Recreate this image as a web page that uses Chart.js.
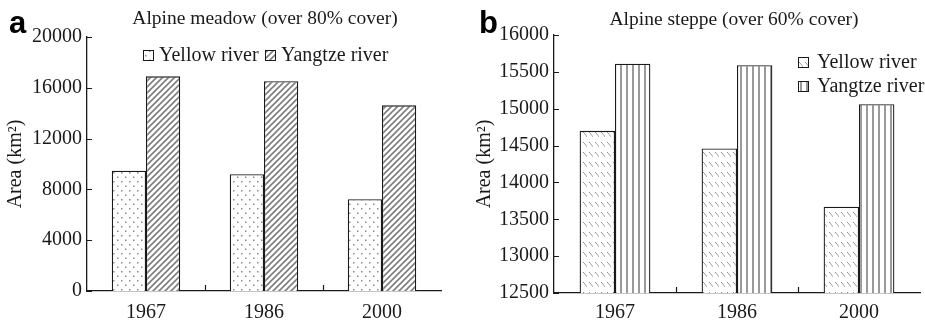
<!DOCTYPE html>
<html>
<head>
<meta charset="utf-8">
<script src="https://cdn.jsdelivr.net/npm/chart.js@4"></script>
<style>
  body { margin: 0; background: #fff; width: 925px; height: 322px; position: relative; overflow: hidden; }
  .panel { position: absolute; top: 0; }
  #wrapA { left: 0; }
  #wrapB { left: 462px; }
</style>
</head>
<body>
<div class="panel" id="wrapA"><canvas id="chartA" width="462" height="322"></canvas></div>
<div class="panel" id="wrapB"><canvas id="chartB" width="463" height="322"></canvas></div>
<script>
// data
const years = ['1967', '1986', '2000'];
const meadowYellow = [9470, 9190, 7220];
const meadowYangtze = [16900, 16510, 14620];
const steppeYellow = [14700, 14460, 13670];
const steppeYangtze = [15610, 15590, 15060];
const meadowTicks = [0, 4000, 8000, 12000, 16000, 20000];
const steppeTicks = [12500, 13000, 13500, 14000, 14500, 15000, 15500, 16000];
const seriesNames = ['Yellow river', 'Yangtze river'];

const serif = '"Liberation Serif", "Times New Roman", serif';
const ink = '#1a1a1a';

function makePattern(w, h, draw) {
    const c = document.createElement('canvas');
    c.width = w;
    c.height = h;
    const g = c.getContext('2d');
    g.fillStyle = '#fff';
    g.fillRect(0, 0, w, h);
    draw(g);
    return g.createPattern(c, 'repeat');
}

const dots = makePattern(8, 9, g => {
    g.fillStyle = '#8a8a8a';
    g.fillRect(1, 1, 1.5, 1.5);
    g.fillRect(5, 5.5, 1.5, 1.5);
});

const slashes = makePattern(6, 6, g => {
    g.strokeStyle = '#7d7d7d';
    g.lineWidth = 1.6;
    g.beginPath();
    g.moveTo(-1, 7); g.lineTo(7, -1);
    g.moveTo(-1, 1); g.lineTo(1, -1);
    g.moveTo(5, 7); g.lineTo(7, 5);
    g.stroke();
});

// short "\" dashes in rows
const backDashes = makePattern(6, 10, g => {
    g.fillStyle = '#8c8c8c';
    for (let i = 0; i < 4; i++) g.fillRect(i + 1, 2 + i * 1.2, 1, 1);
});

const stripes = makePattern(6, 6, g => {
    g.fillStyle = '#9a9a9a';
    g.fillRect(2, 0, 2, 6);
});

function decor(opts) {
    return {
        id: 'decor',
        afterDraw(chart) {
            const ctx = chart.ctx;
            const area = chart.chartArea;
            const x = chart.scales.x;
            const y = chart.scales.y;
            ctx.save();
            ctx.strokeStyle = ink;
            ctx.lineWidth = 1.2;
            // inward ticks
            ctx.beginPath();
            y.ticks.forEach(t => {
                const py = Math.round(y.getPixelForValue(t.value)) + 0.5;
                ctx.moveTo(area.left, py);
                ctx.lineTo(area.left + 5, py);
            });
            for (let i = 1; i < chart.data.labels.length; i++) {
                const px = Math.round((x.getPixelForValue(i - 1) + x.getPixelForValue(i)) / 2) + 0.5;
                ctx.moveTo(px, area.bottom);
                ctx.lineTo(px, area.bottom - 6);
            }
            ctx.stroke();

            // panel letter
            ctx.fillStyle = '#000';
            ctx.font = 'bold 31px "Liberation Sans", Arial, sans-serif';
            ctx.textAlign = 'left';
            ctx.textBaseline = 'alphabetic';
            ctx.fillText(opts.letter, opts.letterX, 33);

            // title
            ctx.fillStyle = ink;
            ctx.font = '19.5px ' + serif;
            ctx.textAlign = 'center';
            ctx.textBaseline = 'middle';
            ctx.fillText(opts.title, opts.titleX, opts.titleY);

            // legend
            ctx.font = '20px ' + serif;
            ctx.textAlign = 'left';
            chart.data.datasets.forEach((ds, i) => {
                const p = opts.legend[i];
                ctx.fillStyle = ds.backgroundColor;
                ctx.fillRect(p[0], p[1] - 5, 10, 10);
                ctx.lineWidth = 1;
                ctx.strokeStyle = ink;
                ctx.strokeRect(p[0] + 0.5, p[1] - 4.5, 10, 10);
                ctx.fillStyle = ink;
                ctx.fillText(ds.label, p[0] + opts.legendGap, p[1] + 1);
            });
            ctx.restore();
        }
    };
}

function makeChart(id, yellow, yangtze, fills, ticks, pad, yWidth, xHeight, xPad, titlePad, deco) {
    const font = { family: serif, size: 20 };
    return new Chart(document.getElementById(id), {
        type: 'bar',
        data: {
            labels: years,
            datasets: [
                { label: seriesNames[0], data: yellow, backgroundColor: fills[0] },
                { label: seriesNames[1], data: yangtze, backgroundColor: fills[1] }
            ]
        },
        options: {
            responsive: false,
            animation: false,
            layout: { padding: pad },
            datasets: {
                bar: {
                    barPercentage: 1,
                    categoryPercentage: 0.58,
                    borderColor: ink,
                    borderWidth: 1.3
                }
            },
            plugins: {
                legend: { display: false },
                tooltip: { enabled: false }
            },
            scales: {
                x: {
                    grid: { display: false, drawTicks: false },
                    border: { color: ink, width: 1.3 },
                    ticks: { font: font, color: ink, padding: xPad, maxRotation: 0 },
                    afterFit: s => { s.height = xHeight; }
                },
                y: {
                    min: ticks[0],
                    max: ticks[ticks.length - 1],
                    afterBuildTicks: s => { s.ticks = ticks.map(v => ({ value: v })); },
                    grid: { display: false, drawTicks: false },
                    border: { color: ink, width: 1.3 },
                    ticks: { font: font, color: ink, padding: 5, callback: v => String(v) },
                    title: {
                        display: true,
                        text: 'Area (km²)',
                        font: font,
                        color: ink,
                        padding: { top: titlePad, bottom: 0 }
                    },
                    afterFit: s => { s.width = yWidth; }
                }
            }
        },
        plugins: [decor(deco)]
    });
}

makeChart('chartA', meadowYellow, meadowYangtze, [dots, slashes], meadowTicks,
    { top: 37, right: 21, left: 0, bottom: 0 }, 87, 31, 10, 4,
    { letter: 'a', letterX: 9, title: 'Alpine meadow (over 80% cover)', titleX: 265, titleY: 19,
      legend: [[143, 55], [265, 55]], legendGap: 16 });

makeChart('chartB', steppeYellow, steppeYangtze, [backDashes, stripes], steppeTicks,
    { top: 35, right: 5, left: 0, bottom: 0 }, 92, 29, 8, 11,
    { letter: 'b', letterX: 17, title: 'Alpine steppe (over 60% cover)', titleX: 272, titleY: 20,
      legend: [[336, 62], [336, 86]], legendGap: 19 });
</script>
</body>
</html>
